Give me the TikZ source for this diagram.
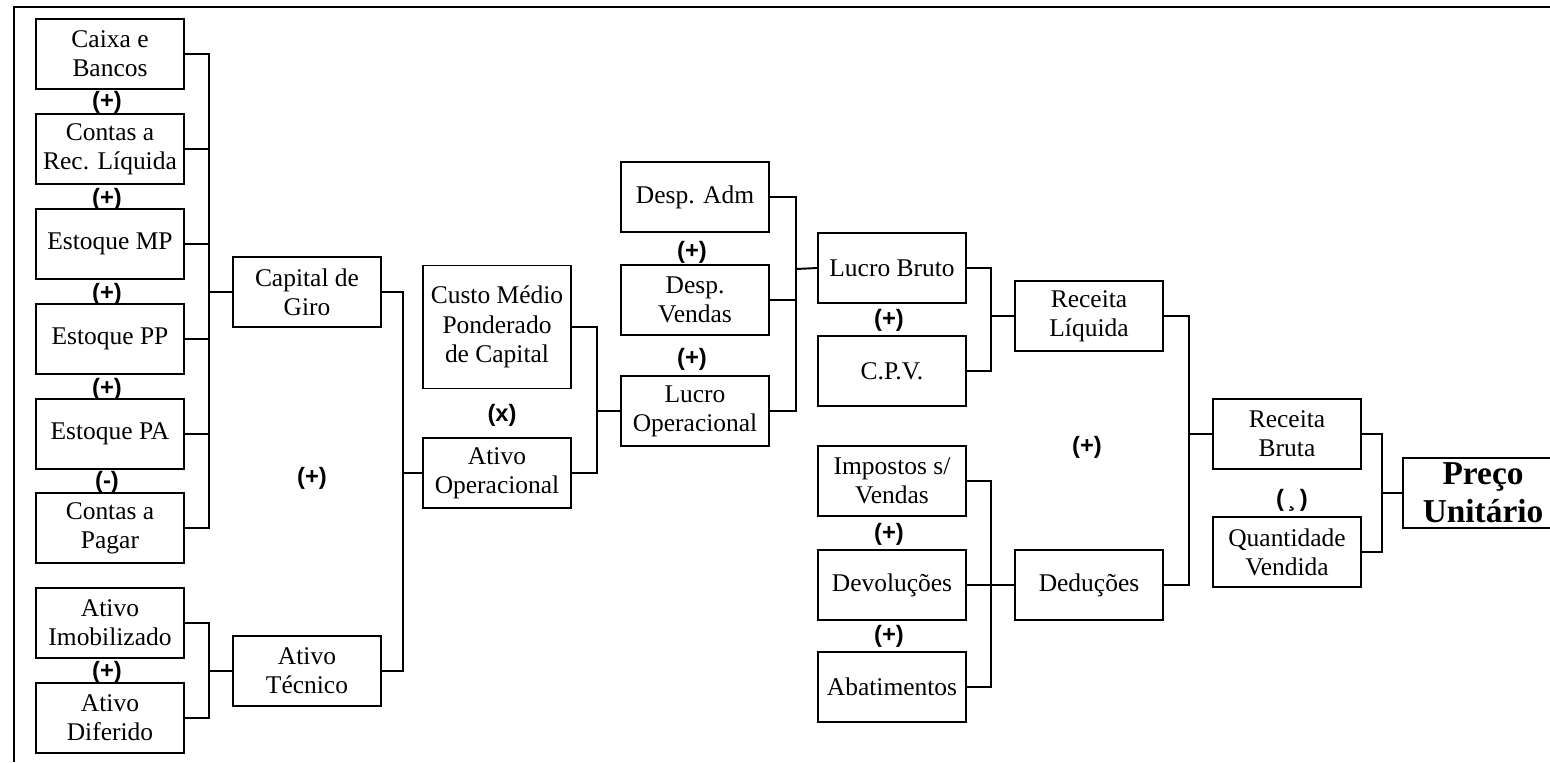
\documentclass[tikz,border=0pt]{standalone}
\usepackage{fontspec}
\setmainfont{Liberation Serif}
\newfontfamily\signfont{Liberation Sans}

\tikzset{
    box/.style={draw, line width=1pt, align=center, inner sep=0pt,
        minimum width=2.97cm, minimum height=1.4cm,
        font=\fontsize{14.5}{16.6}\selectfont},
    sign/.style={inner sep=0pt, font=\signfont\fontsize{13.5}{15}\selectfont\bfseries},
    wire/.style={line width=1.1pt},
}

\begin{document}
\begin{tikzpicture}[x=0.02cm, y=-0.02cm]
    \useasboundingbox (0,0) rectangle (1550,762);
    \clip (0,0) rectangle (1550,762);

    % outer frame (only top and left edges show)
    \draw[line width=1.5pt] (1550,7) -- (14,7) -- (14,762);

    % left column
    \node[box] (caixa)  at (110,54)  {Caixa e\\Bancos};
    \node[box] (contas) at (110,149) {Contas a\\Rec. Líquida};
    \node[box] (estmp)  at (110,244) {Estoque MP};
    \node[box] (estpp)  at (110,339) {Estoque PP};
    \node[box] (estpa)  at (110,434) {Estoque PA};
    \node[box] (pagar)  at (110,528) {Contas a\\Pagar};
    \node[box] (imob)   at (110,623) {Ativo\\Imobilizado};
    \node[box] (dif)    at (110,718) {Ativo\\Diferido};

    \node[box] (giro)    at (307,292) {Capital de\\Giro};
    \node[box] (tecnico) at (307,671) {Ativo\\Técnico};

    \node[box, minimum height=2.46cm] (custo) at (497,327) {Custo Médio\\Ponderado\\de Capital};
    \node[box] (ativoop) at (497,473) {Ativo\\Operacional};

    \node[box] (adm)     at (695,197) {Desp. Adm};
    \node[box] (vendas)  at (695,300) {Desp.\\Vendas};
    \node[box] (lucroop) at (695,411) {Lucro\\Operacional};

    \node[box] (bruto)    at (892,268) {Lucro Bruto};
    \node[box] (cpv)      at (892,371) {C.P.V.};
    \node[box] (impostos) at (892,481) {Impostos s/\\Vendas};
    \node[box] (devol)    at (892,585) {Devoluções};
    \node[box] (abat)     at (892,687) {Abatimentos};

    \node[box] (rliq)  at (1089,316) {Receita\\Líquida};
    \node[box] (deduc) at (1089,585) {Deduções};

    \node[box] (rbruta) at (1287,434) {Receita\\Bruta};
    \node[box] (qtd)    at (1287,552) {Quantidade\\Vendida};

    \node[box, minimum width=3.2cm,
        font=\fontsize{19}{21.5}\selectfont\bfseries] (preco) at (1483,493) {Preço\\Unitário};

    % bus points
    \coordinate (bgiro)  at (209,292);
    \coordinate (btec)   at (209,671);
    \coordinate (bop)    at (403,473);
    \coordinate (blop)   at (597,411);
    \coordinate (bbruto) at (796,269);
    \coordinate (bliq)   at (991,316);
    \coordinate (bded)   at (991,585);
    \coordinate (brb)    at (1189,434);
    \coordinate (bpreco) at (1382,493);

    \foreach \n in {caixa,contas,estmp,estpp,estpa,pagar}
        \draw[wire] (\n.east) -| (bgiro);
    \draw[wire] (bgiro) -- (giro.west);
    \foreach \n in {imob,dif}
        \draw[wire] (\n.east) -| (btec);
    \draw[wire] (btec) -- (tecnico.west);
    \foreach \n in {giro,tecnico}
        \draw[wire] (\n.east) -| (bop);
    \draw[wire] (bop) -- (ativoop.west);
    \foreach \n in {custo,ativoop}
        \draw[wire] (\n.east) -| (blop);
    \draw[wire] (blop) -- (lucroop.west);
    \foreach \n in {adm,vendas,lucroop}
        \draw[wire] (\n.east) -| (bbruto);
    \draw[wire] (bbruto) -- (bruto.west);
    \foreach \n in {bruto,cpv}
        \draw[wire] (\n.east) -| (bliq);
    \draw[wire] (bliq) -- (rliq.west);
    \foreach \n in {impostos,devol,abat}
        \draw[wire] (\n.east) -| (bded);
    \draw[wire] (bded) -- (deduc.west);
    \foreach \n in {rliq,deduc}
        \draw[wire] (\n.east) -| (brb);
    \draw[wire] (brb) -- (rbruta.west);
    \foreach \n in {rbruta,qtd}
        \draw[wire] (\n.east) -| (bpreco);
    \draw[wire] (bpreco) -- (preco.west);

    % operation signs
    \node[sign] (s1) at (107,102) {(+)};
    \node[sign] (s2) at (107,199) {(+)};
    \node[sign] (s3) at (107,294) {(+)};
    \node[sign] (s4) at (107,389) {(+)};
    \node[sign] (s5) at (107,482) {(-)};
    \node[sign] (s6) at (107,672) {(+)};
    \node[sign] (s7) at (312,478) {(+)};
    \node[sign] (s8) at (502,415) {(x)};
    \node[sign] (s9) at (692,252) {(+)};
    \node[sign] (s10) at (692,359) {(+)};
    \node[sign] (s11) at (889,320) {(+)};
    \node[sign] (s12) at (889,534) {(+)};
    \node[sign] (s13) at (889,636) {(+)};
    \node[sign] (s14) at (1087,447) {(+)};
    \node[sign] (s15) at (1292,500) {(\,¸\,)};
\end{tikzpicture}
\end{document}
